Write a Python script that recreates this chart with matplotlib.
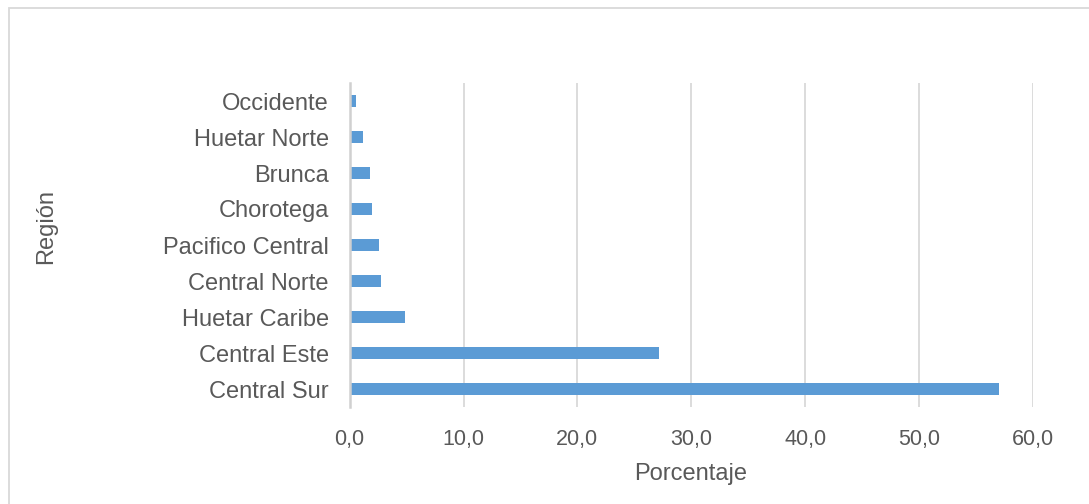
import matplotlib
matplotlib.use("Agg")
import matplotlib.pyplot as plt
from matplotlib.patches import Rectangle

plt.rcParams['font.family'] = ['Liberation Sans', 'DejaVu Sans']

regiones = ["Central Sur", "Central Este", "Huetar Caribe", "Central Norte",
            "Pacifico Central", "Chorotega", "Brunca", "Huetar Norte", "Occidente"]
porcentaje = [57.0, 27.2, 4.9, 2.8, 2.55, 1.95, 1.75, 1.2, 0.6]
xticks = [0, 10, 20, 30, 40, 50, 60]
xtick_labels = ["0,0", "10,0", "20,0", "30,0", "40,0", "50,0", "60,0"]

W, H = 1089, 504
fig = plt.figure(figsize=(W / 100, H / 100), dpi=100)
gris = "#595959"

# marco del area del grafico (solo se ven borde superior e izquierdo)
fig.patches.append(Rectangle((9 / W, -0.05), 1.2, (H - 8) / H + 0.05 - 0.0,
                             transform=fig.transFigure, fill=False,
                             edgecolor="#D9D9D9", linewidth=1.3))

ax = fig.add_axes([349.6 / W, 1 - 407 / H, (1033 - 349.6) / W, 324 / H])
ax.barh(range(len(regiones)), porcentaje, height=0.36, color="#5B9BD5", zorder=3)

ax.set_xlim(0, 60)
ax.set_ylim(-0.5, len(regiones) - 0.5)
ax.set_xticks(xticks)
ax.set_xticklabels(xtick_labels)
ax.set_yticks(range(len(regiones)))
ax.set_yticklabels(regiones)
ax.tick_params(axis="x", length=0, pad=16, labelsize=15.5, colors=gris)
ax.tick_params(axis="y", length=0, pad=15, labelsize=17, colors=gris)

ax.grid(axis="x", color="#D9D9D9", linewidth=1.3, zorder=0)
for s in ["top", "right", "bottom"]:
    ax.spines[s].set_visible(False)
ax.spines["left"].set_color("#D0D0D0")
ax.spines["left"].set_linewidth(1.8)
ax.spines["left"].set_zorder(4)

fig.text(691 / W, 1 - 474 / H, "Porcentaje", ha="center", va="center",
         fontsize=17, color=gris)
fig.text(46 / W, 1 - 227 / H, "Región", ha="center", va="center",
         rotation=90, fontsize=17, color=gris)

fig.savefig("out.png", dpi=100)
